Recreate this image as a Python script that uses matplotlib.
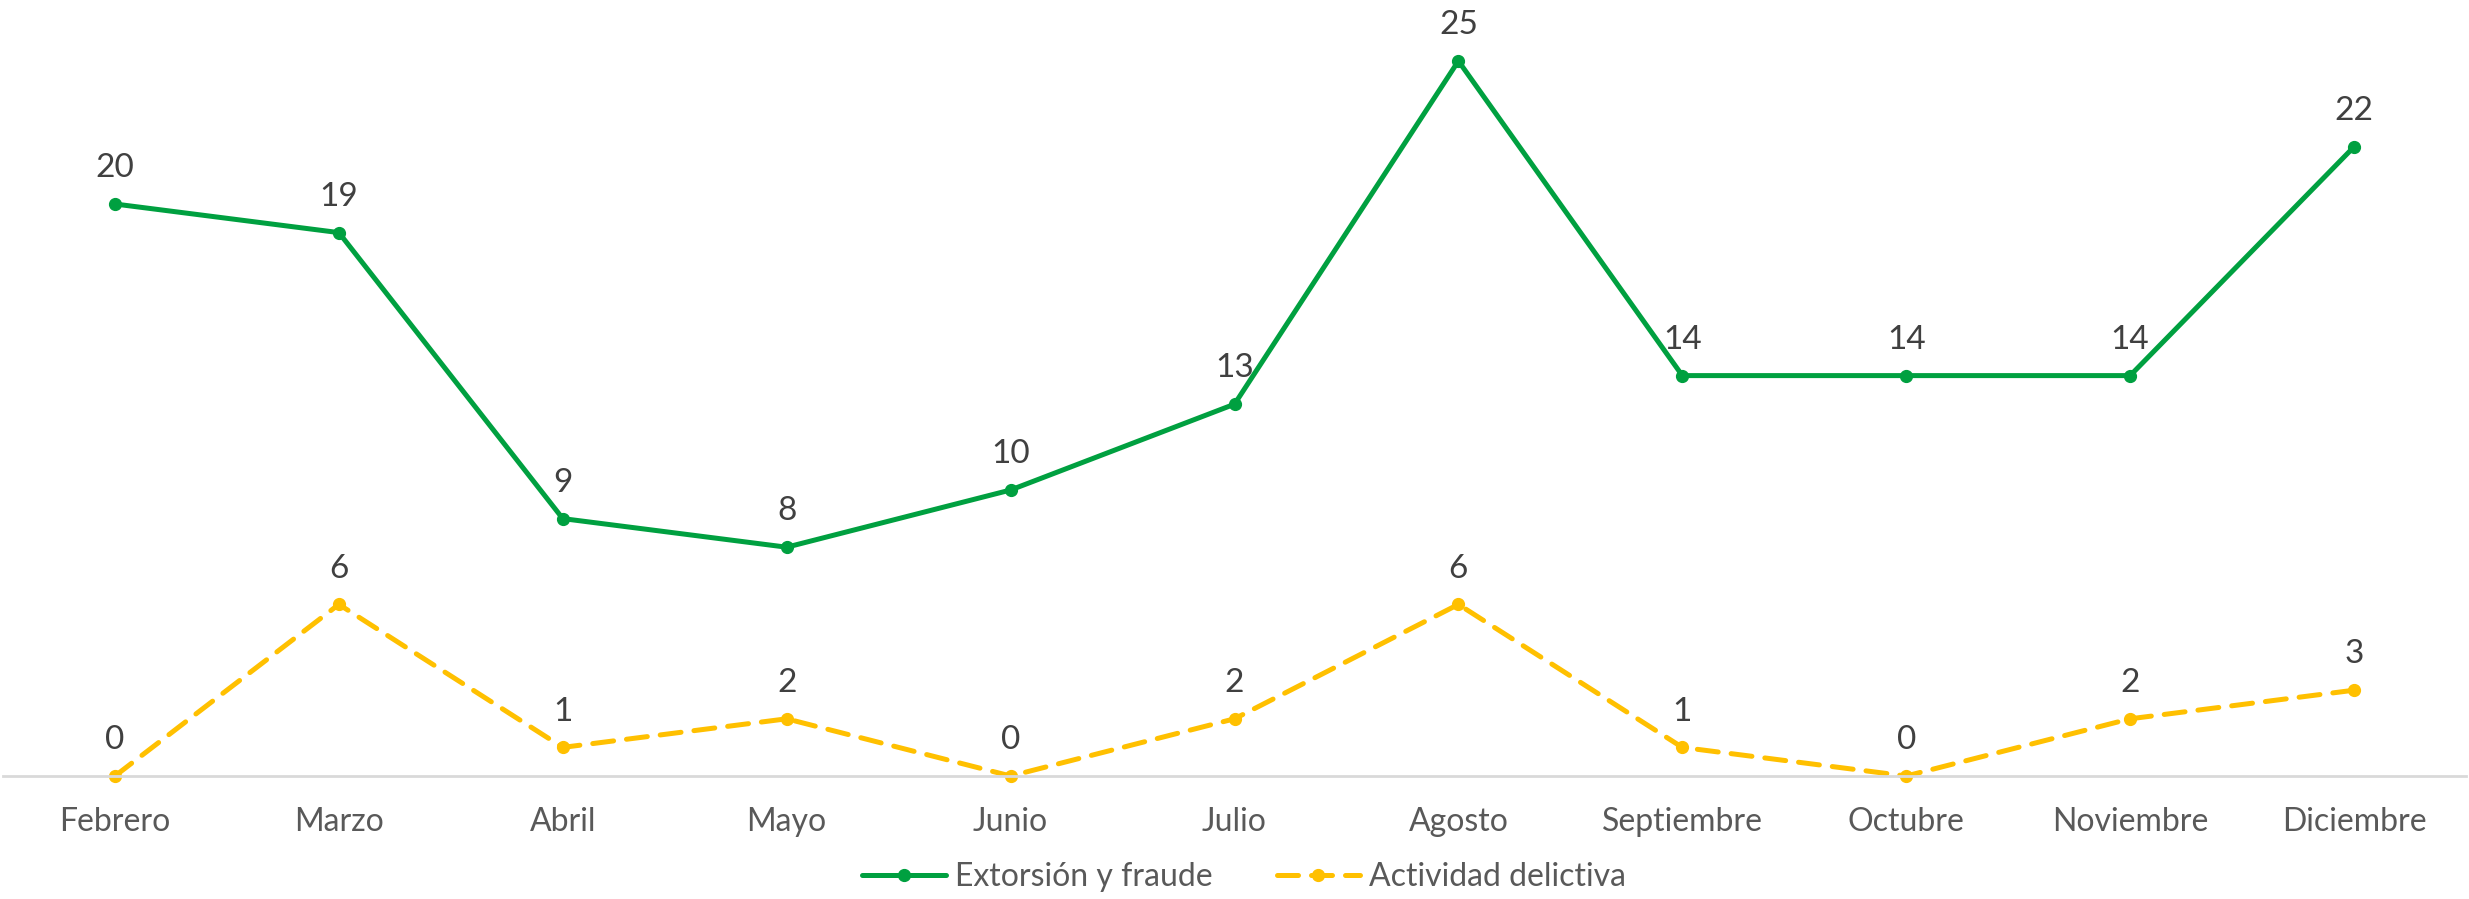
import matplotlib
matplotlib.use("Agg")
import matplotlib.pyplot as plt

months = ["Febrero", "Marzo", "Abril", "Mayo", "Junio", "Julio", "Agosto",
          "Septiembre", "Octubre", "Noviembre", "Diciembre"]
extorsion = [20, 19, 9, 8, 10, 13, 25, 14, 14, 14, 22]
actividad = [0, 6, 1, 2, 0, 2, 6, 1, 0, 2, 3]

GREEN = "#00A040"
YELLOW = "#FFC000"
LABEL_COLOR = "#404040"
TICK_COLOR = "#595959"

plt.rcParams["font.family"] = ["Lato", "DejaVu Sans"]

W, H = 2469, 899
fig = plt.figure(figsize=(W / 100, H / 100), dpi=100)
left_px, right_px = 3, 2466
bottom_px, top_px = 776, 0
ax = fig.add_axes([left_px / W, 1 - bottom_px / H,
                   (right_px - left_px) / W, (bottom_px - top_px) / H])

x = list(range(len(months)))
ax.plot(x, extorsion, color=GREEN, lw=3.6, marker="o", ms=8.5,
        label="Extorsión y fraude", solid_capstyle="round", clip_on=False)
ax.plot(x, actividad, color=YELLOW, lw=3.6, marker="o", ms=8.5,
        dashes=(4.2, 2.6), dash_capstyle="round",
        label="Actividad delictiva", clip_on=False)

for xi, v in zip(x, extorsion):
    ax.annotate(str(v), (xi, v), xytext=(0, 15), textcoords="offset points",
                ha="center", va="bottom", fontsize=24, color=LABEL_COLOR)
for xi, v in zip(x, actividad):
    ax.annotate(str(v), (xi, v), xytext=(0, 15), textcoords="offset points",
                ha="center", va="bottom", fontsize=24, color=LABEL_COLOR)

ax.set_xlim(-0.5, len(months) - 0.5)
ax.set_ylim(0, (bottom_px - top_px) / 28.6)
ax.set_xticks(x)
ax.set_xticklabels(months, fontsize=23, color=TICK_COLOR)
ax.tick_params(axis="x", length=0, pad=22)
ax.set_yticks([])
for side in ["top", "right", "left"]:
    ax.spines[side].set_visible(False)
ax.spines["bottom"].set_color("#D9D9D9")
ax.spines["bottom"].set_linewidth(2)

leg = fig.legend(loc="center", bbox_to_anchor=(0.504, 0.024), ncol=2,
                 frameon=False, fontsize=23, handlelength=2.6,
                 columnspacing=2.0, handletextpad=0.3)
for t in leg.get_texts():
    t.set_color(TICK_COLOR)

fig.savefig("out.png", dpi=100)
